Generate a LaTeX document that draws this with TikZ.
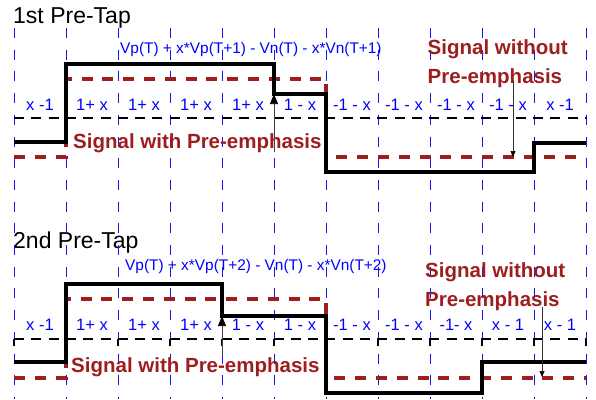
\documentclass[tikz,border=0pt]{standalone}
\usepackage{fontspec}
\setmainfont{Liberation Sans}
\usetikzlibrary{arrows.meta}
\definecolor{sigred}{RGB}{158,30,32}
\definecolor{gridblue}{RGB}{20,20,245}
\begin{document}
\begin{tikzpicture}[x=1pt,y=-1pt,
  gridline/.style={gridblue, line width=0.9pt, dash pattern=on 10pt off 11.7pt},
  sigline/.style={black, line width=4pt},
  preline/.style={sigred, line width=4pt, dash pattern=on 11pt off 9.8pt},
  refline/.style={black, line width=1.8pt, dash pattern=on 10pt off 7.3pt},
  reftick/.style={black, line width=1.5pt},
  celllabel/.style={blue, font=\fontsize{16.5}{16.5}\selectfont, anchor=base, inner sep=0pt},
  formula/.style={blue, font=\fontsize{15.4}{15.4}\selectfont, anchor=base west, inner sep=0pt},
  titletext/.style={black, font=\fontsize{23}{23}\selectfont, anchor=base west, inner sep=0pt},
  redlabel/.style={sigred, font=\bfseries\fontsize{20.5}{20.5}\selectfont, anchor=base west, inner sep=0pt},
  pointer/.style={line width=0.7pt, draw=black!75, -{Triangle[length=10pt,width=8pt,color=black]}},
  smallpointer/.style={line width=0.7pt, draw=black!80, -{Triangle[length=6pt,width=5pt,color=black]}}
]
\useasboundingbox (0,0) rectangle (596,399);

% ---------- texts ----------
\node[titletext] (t1) at (13,23) {1st Pre-Tap};
\node[titletext] (t2) at (13,248) {2nd Pre-Tap};
\node[formula] (f1) at (120,53) {Vp(T) + x*Vp(T+1) - Vn(T) - x*Vn(T+1)};
\node[formula] (f2) at (125,270) {Vp(T) + x*Vp(T+2) - Vn(T) - x*Vn(T+2)};

% ---------- grid ----------
\foreach \i in {0,...,11}{
  \draw[gridline] (14+52*\i,28) -- (14+52*\i,399);
}

% ---------- top diagram ----------
\draw[preline] (14,157) -- (66,157) -- (66,79) -- (326,79) -- (326,157) -- (586,157);
\draw[refline] (14,118) -- (586,118);
\draw[sigline] (14,142) -- (66,142) -- (66,64) -- (274,64) -- (274,94) -- (326,94)
  -- (326,172) -- (534,172) -- (534,143) -- (586,143);

\foreach \t [count=\k from 0] in {x -1,1+ x,1+ x,1+ x,1+ x,1 - x,-1 - x,-1 - x,-1 - x,-1 - x,x -1}{
  \node[celllabel] (la\k) at (40+52*\k,110) {\t};
}

\coordinate (p1s) at (274,152);
\coordinate (p1e) at (274,94);
\draw[pointer] (p1s) -- (p1e);
\coordinate (q1s) at (513,80);
\coordinate (q1e) at (513,157);
\draw[smallpointer] (q1s) -- (q1e);

\node[redlabel] (w1) at (73,148) {Signal with Pre-emphasis};
\node[redlabel] (wo1a) at (427.5,54.3) {Signal without};
\node[redlabel] (wo1b) at (427.5,83.3) {Pre-emphasis};

% ---------- bottom diagram ----------
\draw[preline] (14,378) -- (66,378) -- (66,299) -- (326,299) -- (326,378) -- (586,378);
\draw[refline] (14,339) -- (586,339);
\foreach \i in {0,...,11}{
  \draw[reftick] (14+52*\i,339) -- (14+52*\i,346);
}
\draw[sigline] (14,362) -- (66,362) -- (66,284) -- (222,284) -- (222,316) -- (326,316)
  -- (326,393) -- (482,393) -- (482,362) -- (586,362);

\foreach \t [count=\k from 0] in {x -1,1+ x,1+ x,1+ x,1 - x,1 - x,-1 - x,-1 - x,-1- x,x - 1,x - 1}{
  \node[celllabel] (lb\k) at (40+52*\k,330) {\t};
}

\coordinate (p2s) at (222,356);
\coordinate (p2e) at (222,316);
\draw[pointer] (p2s) -- (p2e);
\coordinate (q2s) at (542,307);
\coordinate (q2e) at (542,377);
\draw[smallpointer] (q2s) -- (q2e);

\node[redlabel] (w2) at (71,372) {Signal with Pre-emphasis};
\node[redlabel] (wo2a) at (425,277.7) {Signal without};
\node[redlabel] (wo2b) at (425,306) {Pre-emphasis};

\end{tikzpicture}
\end{document}
